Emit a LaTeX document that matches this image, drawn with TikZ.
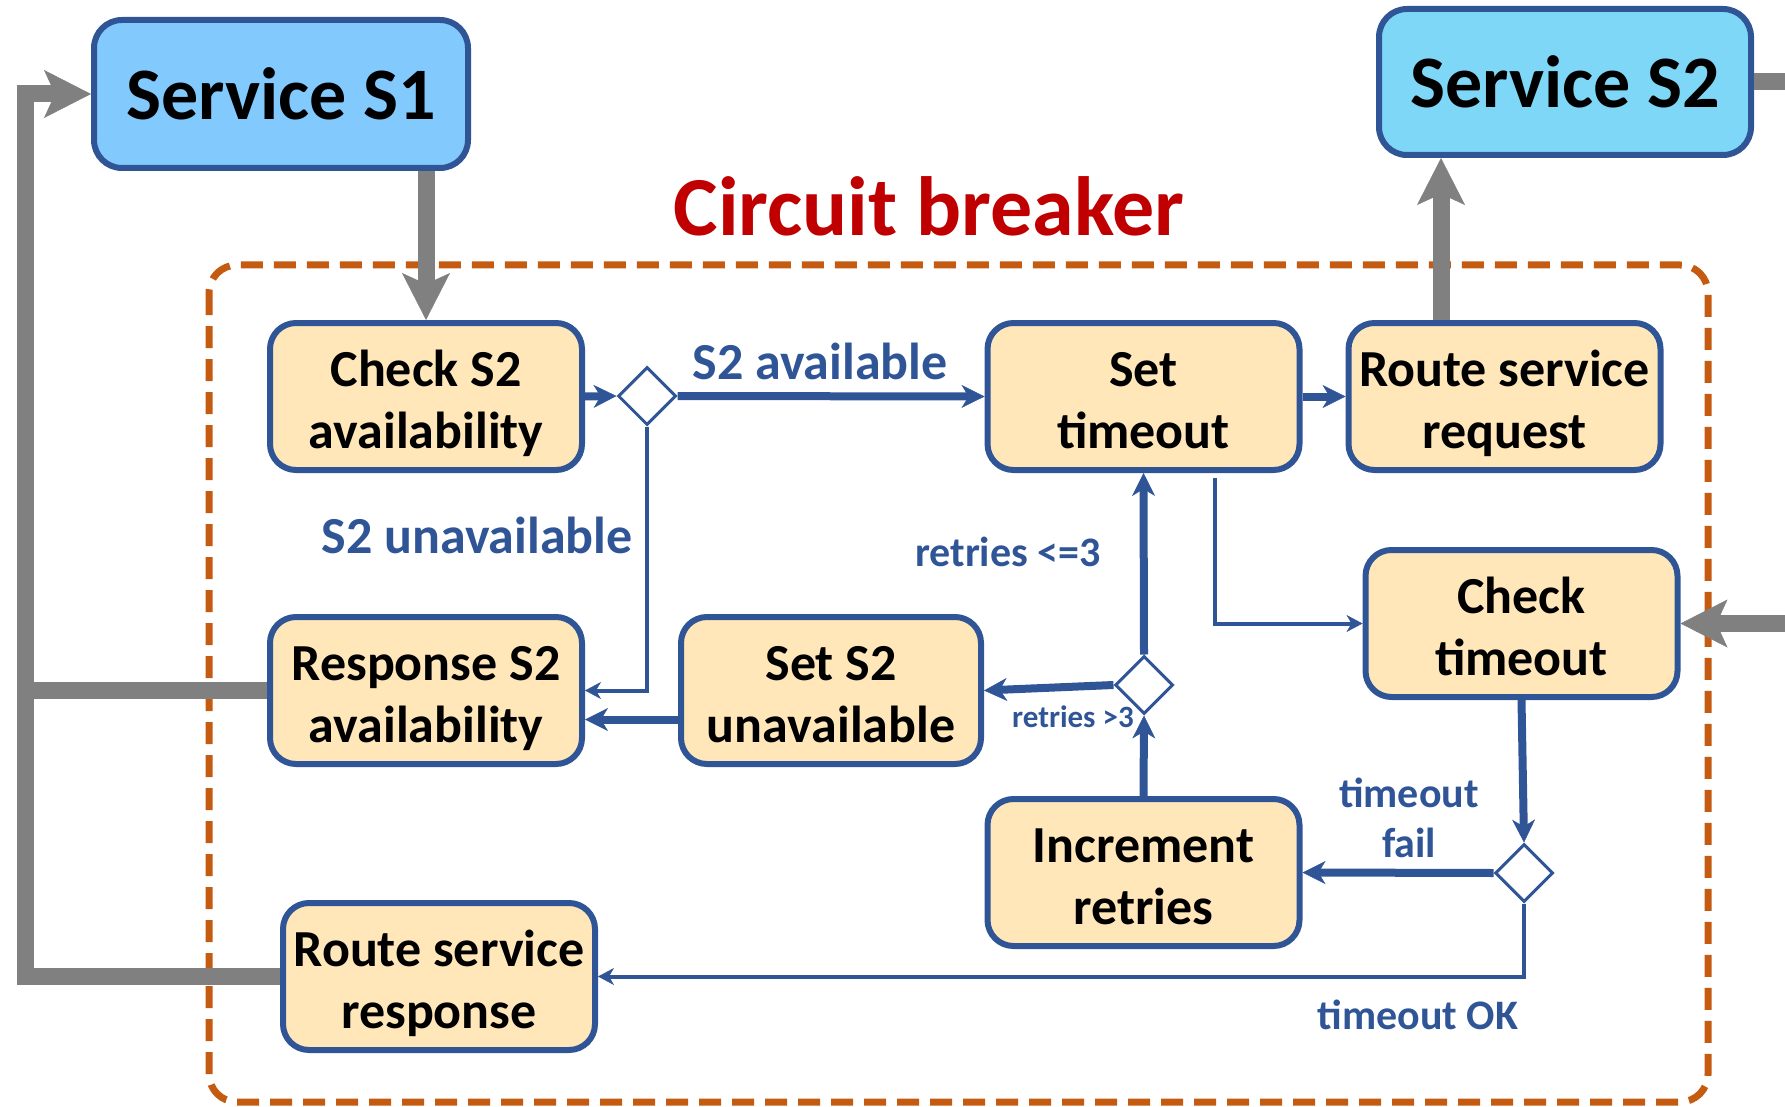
\documentclass[tikz,border=0pt]{standalone}
\usepackage{fontspec}
\setmainfont{Carlito}
\usetikzlibrary{arrows.meta,shapes.geometric,calc}
\definecolor{cbblue}{HTML}{2F5597}
\definecolor{cbfill}{HTML}{FFE7BA}
\definecolor{sonefill}{HTML}{82C9FE}
\definecolor{stwofill}{HTML}{7FD7F7}
\definecolor{cbgray}{HTML}{808080}
\definecolor{cborange}{HTML}{C55A11}
\definecolor{cbred}{HTML}{C00000}
\newcommand\cbtop{\rule{0pt}{55pt}}
\newcommand\cbbot{\rule[-14pt]{0pt}{14pt}}
\tikzset{
  procbox/.style={draw=cbblue, line width=6pt, fill=cbfill, rounded corners=26pt,
    minimum width=312pt, minimum height=147pt, inner sep=0pt, align=center,
    font=\bfseries\fontsize{52}{62}\selectfont},
  svcbox/.style={draw=cbblue, line width=6pt, rounded corners=28pt, inner sep=0pt,
    font=\bfseries\fontsize{74}{88}\selectfont},
  decision/.style={diamond, draw=cbblue, line width=3pt, fill=white,
    minimum width=58pt, minimum height=58pt, inner sep=0pt},
  grayflow/.style={draw=cbgray, line width=17pt, line join=miter},
  grayarrow/.style={grayflow, -{Stealth[length=47pt, width=48pt, inset=11pt, line width=0.5pt]}},
  bluethick/.style={draw=cbblue, line width=8pt, line join=miter,
    -{Stealth[length=23pt, width=23pt, inset=7pt, line width=0.5pt]}},
  bluethin/.style={draw=cbblue, line width=4pt, line join=miter,
    -{Stealth[length=16pt, width=17pt, inset=5pt, line width=0.5pt]}},
  biglabel/.style={text=cbblue, font=\bfseries\fontsize{52}{62}\selectfont, anchor=base, inner sep=0pt},
  midlabel/.style={text=cbblue, font=\bfseries\fontsize{42}{50}\selectfont, anchor=base, inner sep=0pt},
  tinylabel/.style={text=cbblue, font=\bfseries\fontsize{31}{37}\selectfont, anchor=base, inner sep=0pt},
}
\begin{document}
\begin{tikzpicture}[x=1pt, y=-1pt]
\useasboundingbox (0,0) rectangle (1785,1107);

% circuit breaker frame
\draw[cborange, line width=7pt, dash pattern=on 22pt off 11pt, rounded corners=28pt]
  (209,265) rectangle (1708,1102);
\node[text=cbred, font=\bfseries\fontsize{84}{100}\selectfont, anchor=base, inner sep=0pt]
  (title) at (929,236) {Circuit breaker};

% services
\node[svcbox, fill=sonefill, minimum width=374pt, minimum height=148pt] (s1) at (281,94) {Service S1};
\node[svcbox, fill=stwofill, minimum width=372pt, minimum height=146pt] (s2) at (1565,82) {Service S2};

% process boxes
\node[procbox] (chk)   at (426,396.5)   {\cbtop Check S2\\availability\cbbot};
\node[procbox] (stime) at (1143.5,396.5) {\cbtop Set\\timeout\cbbot};
\node[procbox] (rreq)  at (1504.5,396.5) {\cbtop Route service\\request\cbbot};
\node[procbox] (resp)  at (426,690.5)   {\cbtop Response S2\\availability\cbbot};
\node[procbox, minimum width=300pt] (sunav) at (831,690.5) {\cbtop Set S2\\unavailable\cbbot};
\node[procbox] (ctime) at (1521.5,623.5) {\cbtop Check\\timeout\cbbot};
\node[procbox] (incr)  at (1143.5,872.5) {\cbtop Increment\\retries\cbbot};
\node[procbox] (rresp) at (439,976.5)   {\cbtop Route service\\response\cbbot};

% decisions
\node[decision] (d1) at (647,396) {};
\node[decision] (d2) at (1144,685) {};
\node[decision] (d3) at (1524,873) {};

% helper coordinates
\coordinate (lx) at (25,0);
\coordinate (rq) at ([xshift=-63.5pt]rreq.north);
\coordinate (re1) at (1785,82);
\coordinate (re2) at (1785,623.5);
\coordinate (sw) at ([yshift=-29pt]sunav.west);
\coordinate (st) at ([xshift=71.5pt,yshift=-5pt]stime.south);

% gray service flows
\draw[grayarrow] (chk.north |- s1.south) -- (chk.north);
\draw[grayarrow] (rq) -- (rq |- s2.south);
\draw[grayflow] (s2.east) -- (re1);
\draw[grayarrow] (re2) -- (ctime.east);
\draw[grayarrow] (rresp.west) -- (rresp.west -| lx) -- (lx |- s1.west) -- (s1.west);
\draw[grayflow] (resp.west) -- (resp.west -| lx);

% blue control flows
\draw[bluethick] (chk.east) -- (d1.west);
\draw[bluethick] (d1.east) -- (stime.west);
\draw[bluethin] (d1.south) |- (resp.east);
\draw[bluethick] (sw) -- (sw -| resp.east);
\draw[bluethick] (d2.west) -- (sunav.east);
\draw[bluethick] (incr.north) -- (d2.south);
\draw[bluethick] (d2.north) -- (stime.south);
\draw[bluethin] (st) |- (ctime.west);
\draw[bluethick] (stime.east) -- (rreq.west);
\draw[bluethick] (ctime.south) -- (d3.north);
\draw[bluethick] (d3.west) -- (incr.east);
\draw[bluethin] (d3.south) |- (rresp.east);

% labels
\node[biglabel] (lavail) at (820,379) {S2 available};
\node[biglabel] (lunav) at (477,553) {S2 unavailable};
\node[midlabel] (lle) at (1008,566) {retries <=3};
\node[tinylabel] (lgt) at (1073,727) {retries >3};
\node[midlabel] (ltf1) at (1409,807) {timeout};
\node[midlabel] (ltf2) at (1409,857) {fail};
\node[midlabel] (lok) at (1418,1029) {timeout OK};
\end{tikzpicture}
\end{document}
